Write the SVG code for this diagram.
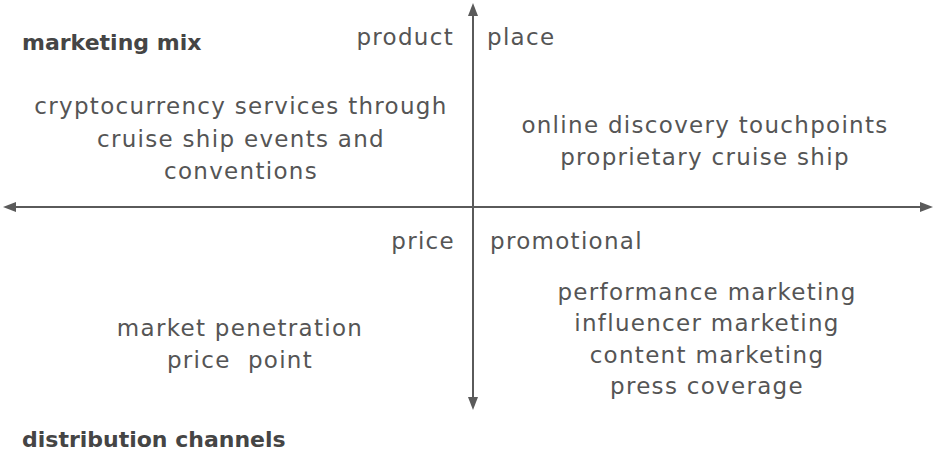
<svg xmlns="http://www.w3.org/2000/svg" width="935" height="459" viewBox="0 0 935 459">
  <style>
    text { font-family: "DejaVu Sans", "Noto Sans", sans-serif; fill: #555555; font-size: 23px; letter-spacing: 1.3px; }
    .title { font-weight: bold; font-size: 22px; fill: #454545; letter-spacing: 0; }
    .mid { text-anchor: middle; }
    .end { text-anchor: end; }
    .axis { stroke: #5a5a5a; stroke-width: 2; fill: none; }
    .head { fill: #5a5a5a; stroke: none; }
  </style>
  <rect width="935" height="459" fill="#ffffff"/>

  <!-- quadrant axes with arrowheads at both ends -->
  <g id="axes">
    <line class="axis" x1="473" y1="14" x2="473" y2="398"/>
    <line class="axis" x1="14" y1="207" x2="922" y2="207"/>
    <path class="head" d="M473,3 L478,16 L468,16 z"/>
    <path class="head" d="M473,410 L478,397 L468,397 z"/>
    <path class="head" d="M3,207 L16,202 L16,212 z"/>
    <path class="head" d="M933,207 L920,202 L920,212 z"/>
  </g>

  <g id="marketing-mix"><text class="title" x="22" y="50">marketing mix</text></g>
  <g id="distribution-channels"><text class="title" x="22" y="447">distribution channels</text></g>

  <g id="product"><text class="end" x="454" y="45">product</text></g>
  <g id="place"><text x="487" y="45">place</text></g>
  <g id="price"><text class="end" x="455" y="249">price</text></g>
  <g id="promotional"><text x="490" y="249">promotional</text></g>

  <g id="product-items">
    <text class="mid" x="241" y="114">cryptocurrency services through</text>
    <text class="mid" x="241" y="147">cruise ship events and</text>
    <text class="mid" x="241" y="179">conventions</text>
  </g>
  <g id="place-items">
    <text class="mid" x="705" y="133">online discovery touchpoints</text>
    <text class="mid" x="705" y="165">proprietary cruise ship</text>
  </g>
  <g id="price-items">
    <text class="mid" x="240" y="336">market penetration</text>
    <text class="mid" x="240" y="368" xml:space="preserve">price  point</text>
  </g>
  <g id="promotional-items">
    <text class="mid" x="707" y="300">performance marketing</text>
    <text class="mid" x="707" y="331">influencer marketing</text>
    <text class="mid" x="707" y="363">content marketing</text>
    <text class="mid" x="707" y="394">press coverage</text>
  </g>
</svg>
